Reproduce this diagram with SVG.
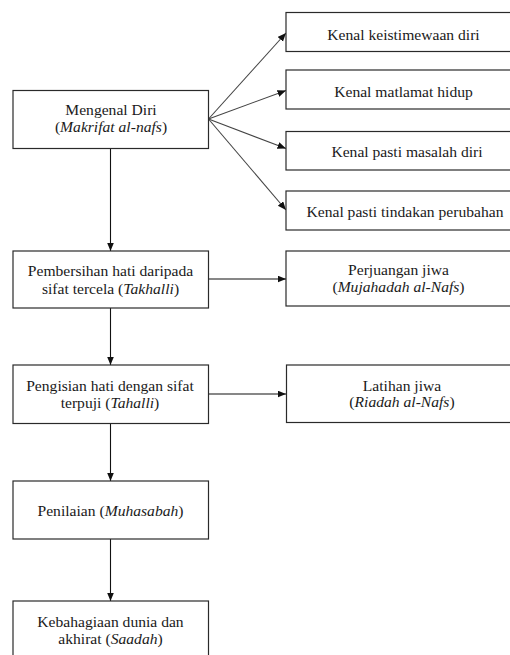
<svg xmlns="http://www.w3.org/2000/svg" width="510" height="655" viewBox="0 0 510 655">
<defs>
<style>
.box{fill:#fff;stroke:#2a2a2a;stroke-width:1.2}
.t{font-family:'Liberation Serif','Times New Roman',Times,'DejaVu Serif',serif;font-size:15.6px;fill:#1a1a1a;text-anchor:middle}
.i{font-style:italic}
.c{stroke:#111;stroke-width:1.1;fill:none;marker-end:url(#ah)}
.d{stroke:#444;stroke-width:1.1;fill:none;marker-end:url(#ah)}
</style>
<marker id="ah" markerUnits="userSpaceOnUse" markerWidth="9" markerHeight="8" refX="8.5" refY="3.5" orient="auto">
<path d="M0,0 L8.5,3.5 L0,7 Z" fill="#111"/>
</marker>
</defs>
<rect width="510" height="655" fill="#fff"/>
<g id="connectors">
<line class="d" x1="208.5" y1="119" x2="286" y2="33"/>
<line class="d" x1="208.5" y1="119" x2="286" y2="90.5"/>
<line class="d" x1="208.5" y1="119" x2="286" y2="148.5"/>
<line class="d" x1="208.5" y1="119" x2="286" y2="210"/>
<line class="c" x1="110.5" y1="149" x2="110.5" y2="251"/>
<line class="c" x1="110.5" y1="308" x2="110.5" y2="365"/>
<line class="c" x1="110.5" y1="423.5" x2="110.5" y2="481"/>
<line class="c" x1="110.5" y1="539" x2="110.5" y2="601"/>
<line class="c" x1="208.5" y1="279" x2="286" y2="279"/>
<line class="c" x1="208.5" y1="394" x2="286" y2="394"/>
</g>
<g font-family="'Liberation Serif', 'Times New Roman', Times, 'DejaVu Serif', serif">
<g id="mengenal">
<rect class="box" x="13" y="90.5" width="195.5" height="58"/>
<text class="t" x="111" y="114.5">Mengenal Diri</text>
<text class="t" x="111" y="131.5">(<tspan class="i">Makrifat al-nafs</tspan>)</text>
</g>
<g id="keistimewaan">
<rect class="box" x="286" y="12.5" width="240" height="39"/>
<text class="t" x="403.5" y="39.5">Kenal keistimewaan diri</text>
</g>
<g id="matlamat">
<rect class="box" x="286" y="70" width="240" height="39"/>
<text class="t" x="403.5" y="96.5">Kenal matlamat hidup</text>
</g>
<g id="masalah">
<rect class="box" x="286" y="131.5" width="240" height="38.5"/>
<text class="t" x="407" y="157">Kenal pasti masalah diri</text>
</g>
<g id="tindakan">
<rect class="box" x="286" y="191" width="240" height="39"/>
<text class="t" x="405" y="217">Kenal pasti tindakan perubahan</text>
</g>
<g id="pembersihan">
<rect class="box" x="13" y="251" width="195.5" height="57"/>
<text class="t" x="110.5" y="275.5">Pembersihan hati daripada</text>
<text class="t" x="110.5" y="293.5">sifat tercela (<tspan class="i">Takhalli</tspan>)</text>
</g>
<g id="perjuangan">
<rect class="box" x="286" y="251" width="240" height="55"/>
<text class="t" x="398.5" y="275">Perjuangan jiwa</text>
<text class="t" x="398.5" y="292">(<tspan class="i">Mujahadah al-Nafs</tspan>)</text>
</g>
<g id="pengisian">
<rect class="box" x="13" y="365" width="195.5" height="58.5"/>
<text class="t" x="110" y="390.5">Pengisian hati dengan sifat</text>
<text class="t" x="110" y="407.5">terpuji (<tspan class="i">Tahalli</tspan>)</text>
</g>
<g id="latihan">
<rect class="box" x="286.5" y="365" width="240" height="57.5"/>
<text class="t" x="402" y="390.5">Latihan jiwa</text>
<text class="t" x="402" y="406.5">(<tspan class="i">Riadah al-Nafs</tspan>)</text>
</g>
<g id="penilaian">
<rect class="box" x="13" y="481" width="195.5" height="58"/>
<text class="t" x="110.5" y="515.5">Penilaian (<tspan class="i">Muhasabah</tspan>)</text>
</g>
<g id="kebahagiaan">
<rect class="box" x="13" y="601" width="195.5" height="70"/>
<text class="t" x="110.5" y="626.5">Kebahagiaan dunia dan</text>
<text class="t" x="110.5" y="643.5">akhirat (<tspan class="i">Saadah</tspan>)</text>
</g>
</g>
</svg>
